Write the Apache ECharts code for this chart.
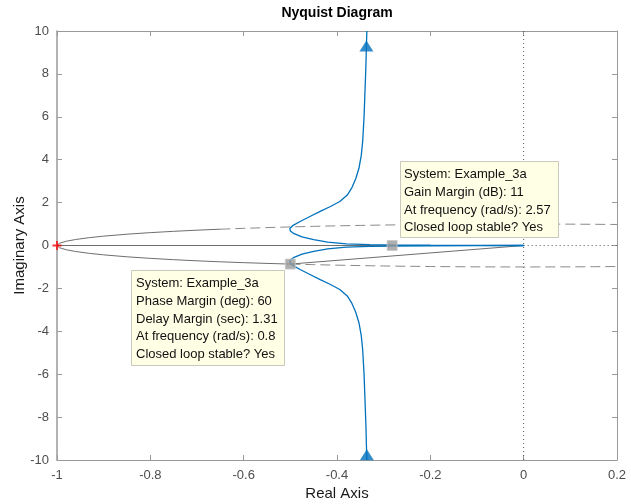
<!DOCTYPE html>
<html>
<head>
<meta charset="utf-8">
<script src="https://cdn.jsdelivr.net/npm/echarts@6/dist/echarts.min.js"></script>
<style>
  html, body { margin: 0; padding: 0; background: #fff; }
  #chart { width: 631px; height: 504px; }
</style>
</head>
<body>
<div id="chart"></div>
<script>
// Axis ticks
const xTicks = [-1, -0.8, -0.6, -0.4, -0.2, 0, 0.2];
const yTicks = [-10, -8, -6, -4, -2, 0, 2, 4, 6, 8, 10];

// Nyquist curve of Example_3a, negative-frequency branch (origin -> +j infinity)
const negRe = [0, -0.1, -0.2, -0.28, -0.33, -0.38, -0.42, -0.45, -0.475, -0.492, -0.5, -0.501, -0.494, -0.479, -0.458, -0.436, -0.414, -0.394, -0.378, -0.368, -0.36, -0.353, -0.348, -0.345, -0.342, -0.34, -0.338, -0.337, -0.336];
const negIm = [0, 0.004, 0.012, 0.025, 0.045, 0.08, 0.16, 0.27, 0.4, 0.55, 0.68, 0.79, 0.94, 1.12, 1.35, 1.59, 1.82, 2.05, 2.35, 2.7, 3.1, 3.6, 4.2, 4.85, 6.0, 7.2, 8.4, 9.3, 10];
// Positive-frequency branch (complex conjugate of the one above)
const posRe = [0, -0.1, -0.2, -0.28, -0.33, -0.38, -0.42, -0.45, -0.475, -0.492, -0.5, -0.501, -0.494, -0.479, -0.458, -0.436, -0.414, -0.394, -0.378, -0.368, -0.36, -0.353, -0.348, -0.345, -0.342, -0.34, -0.338, -0.337, -0.336];
const posIm = [0, -0.004, -0.012, -0.025, -0.045, -0.08, -0.16, -0.27, -0.4, -0.55, -0.68, -0.79, -0.94, -1.12, -1.35, -1.59, -1.82, -2.05, -2.35, -2.7, -3.1, -3.6, -4.2, -4.85, -6.0, -7.2, -8.4, -9.3, -10];

// Direction arrows on the two branches
const arrowPts = [[-0.337, 9.3], [-0.336, -9.75]];

// Unit circle, tabulated upper half
const circRe = [-1, -0.995, -0.98, -0.96, -0.93, -0.9, -0.85, -0.8, -0.75, -0.7, -0.65, -0.6, -0.55, -0.5, -0.45, -0.4, -0.35, -0.3, -0.25, -0.2, -0.15, -0.1, -0.05, 0, 0.05, 0.1, 0.15, 0.2];
const circIm = [0, 0.0999, 0.199, 0.28, 0.368, 0.436, 0.527, 0.6, 0.661, 0.714, 0.76, 0.8, 0.835, 0.866, 0.893, 0.917, 0.937, 0.954, 0.968, 0.98, 0.989, 0.995, 0.999, 1, 0.999, 0.995, 0.989, 0.98];

// Stability margins
const gainMarginDb = 11;
const gmPoint = [-0.2818, 0];
const gmFreq = 2.57;
const phaseMarginDeg = 60;
const pmPoint = [-0.5, -0.866];
const pmFreq = 0.8;
const delayMargin = 1.31;
const criticalPoint = [-1, 0];

const zip = (a, b) => a.map((v, i) => [v, b[i]]);
const upperCircle = zip(circRe, circIm);
const lowerCircle = zip(circRe, circIm.map(v => -v));
const upperSolid = upperCircle.filter(p => p[0] <= -0.65);
const upperDashed = upperCircle.filter(p => p[0] >= -0.65);
const lowerSolid = lowerCircle.filter(p => p[0] <= pmPoint[0]);
const lowerDashed = lowerCircle.filter(p => p[0] >= pmPoint[0]);

const FONT = '"Liberation Sans", Arial, Helvetica, sans-serif';
const AXIS_COLOR = '#9a9a9a';
const LABEL_COLOR = '#4d4d4d';
const BLUE = '#0072BD';
const GREY = '#6e6e6e';

function lineSeries(data, color, type, width, z) {
  return {
    type: 'line', data: data, showSymbol: false, symbol: 'none', silent: true,
    animation: false, z: z || 2,
    lineStyle: { color: color, width: width || 1, type: type || 'solid' }
  };
}

const chart = echarts.init(document.getElementById('chart'), null, { renderer: 'canvas' });

const tipStyle = {
  fill: '#ffffe6', stroke: '#c9c9bd', lineWidth: 1
};
const tipText = (x, y, lines) => ({
  type: 'text', x: x, y: y, z: 100,
  style: {
    text: lines.join('\n'), font: '13px ' + FONT, fill: '#111',
    lineHeight: 17.6, verticalAlign: 'top', align: 'left'
  }
});

const option = {
  animation: false,
  backgroundColor: '#ffffff',
  grid: { left: 57, top: 31, right: 14, bottom: 44, containLabel: false, outerBoundsMode: 'none' },
  xAxis: [{
    type: 'value', min: xTicks[0], max: xTicks[xTicks.length - 1], interval: 0.2,
    position: 'bottom',
    name: 'Real Axis', nameLocation: 'middle', nameGap: 26, nameMoveOverlap: false,
    nameTextStyle: { fontFamily: FONT, fontSize: 15, color: '#1a1a1a' },
    axisLine: { show: true, onZero: false, lineStyle: { color: AXIS_COLOR, width: 1 } },
    axisTick: { show: true, inside: true, length: 5, lineStyle: { color: AXIS_COLOR } },
    axisLabel: { fontFamily: FONT, fontSize: 13, color: LABEL_COLOR, margin: 9 },
    splitLine: { show: false }
  }, {
    type: 'value', min: xTicks[0], max: xTicks[xTicks.length - 1], interval: 0.2,
    position: 'top',
    axisLine: { show: true, onZero: false, lineStyle: { color: AXIS_COLOR, width: 1 } },
    axisTick: { show: true, inside: true, length: 5, lineStyle: { color: AXIS_COLOR } },
    axisLabel: { show: false },
    splitLine: { show: false }
  }],
  yAxis: [{
    type: 'value', min: yTicks[0], max: yTicks[yTicks.length - 1], interval: 2,
    position: 'left',
    name: 'Imaginary Axis', nameLocation: 'middle', nameGap: 30, nameRotate: 90, nameMoveOverlap: false,
    nameTextStyle: { fontFamily: FONT, fontSize: 15, color: '#1a1a1a' },
    axisLine: { show: true, onZero: false, lineStyle: { color: AXIS_COLOR, width: 1.5 } },
    axisTick: { show: true, inside: true, length: 5, lineStyle: { color: AXIS_COLOR } },
    axisLabel: { fontFamily: FONT, fontSize: 13, color: LABEL_COLOR, margin: 8 },
    splitLine: { show: false }
  }, {
    type: 'value', min: yTicks[0], max: yTicks[yTicks.length - 1], interval: 2,
    position: 'right',
    axisLine: { show: true, onZero: false, lineStyle: { color: AXIS_COLOR, width: 1 } },
    axisTick: { show: true, inside: true, length: 5, lineStyle: { color: AXIS_COLOR } },
    axisLabel: { show: false },
    splitLine: { show: false }
  }],
  series: [
    // zero lines
    lineSeries([[0, yTicks[0]], [0, yTicks[yTicks.length - 1]]], '#555', [1, 3], 1, 1),
    lineSeries([[0, 0], [xTicks[xTicks.length - 1], 0]], '#555', [1, 3], 1, 1),
    lineSeries([criticalPoint, [0, 0]], GREY, 'solid', 1, 1),
    // unit circle
    lineSeries(upperSolid, GREY, 'solid', 1, 1),
    lineSeries(upperDashed, '#8a8a8a', [10, 5], 1, 1),
    lineSeries(lowerSolid, GREY, 'solid', 1, 1),
    lineSeries(lowerDashed, '#8a8a8a', [10, 5], 1, 1),
    // phase margin ray
    lineSeries([[0, 0], pmPoint], GREY, 'solid', 1, 1),
    // Nyquist branches
    lineSeries(zip(negRe, negIm), BLUE, 'solid', 1.3, 3),
    lineSeries(zip(posRe, posIm), BLUE, 'solid', 1.3, 3),
    {
      type: 'scatter', data: arrowPts, symbol: 'triangle', symbolSize: [14, 11],
      itemStyle: { color: BLUE }, silent: true, z: 4, clip: false
    },
    {
      type: 'scatter', data: [gmPoint, pmPoint], symbol: 'rect', symbolSize: 10,
      itemStyle: { color: '#9b9b9b', borderColor: '#c8c8c8', borderWidth: 1 }, silent: true, z: 5
    },
    {
      type: 'scatter', data: [criticalPoint], clip: false, silent: true, z: 5,
      symbol: 'path://M4,0H6V4H10V6H6V10H4V6H0V4H4Z', symbolSize: 9,
      itemStyle: { color: '#ff0000' }
    }
  ],
  graphic: [
    {
      type: 'text', x: 337, y: 6, z: 100,
      style: { text: 'Nyquist Diagram', font: 'bold 14px ' + FONT, fill: '#000', align: 'center', verticalAlign: 'top' }
    },
    { type: 'rect', z: 99, shape: { x: 400.5, y: 161.5, width: 158, height: 76 }, style: tipStyle },
    tipText(404, 166, [
      'System: Example_3a',
      'Gain Margin (dB): ' + gainMarginDb,
      'At frequency (rad/s): ' + gmFreq,
      'Closed loop stable? Yes'
    ]),
    { type: 'rect', z: 99, shape: { x: 131.5, y: 270.5, width: 153, height: 95 }, style: tipStyle },
    tipText(136, 275, [
      'System: Example_3a',
      'Phase Margin (deg): ' + phaseMarginDeg,
      'Delay Margin (sec): ' + delayMargin,
      'At frequency (rad/s): ' + pmFreq,
      'Closed loop stable? Yes'
    ])
  ]
};

chart.setOption(option);
</script>
</body>
</html>
